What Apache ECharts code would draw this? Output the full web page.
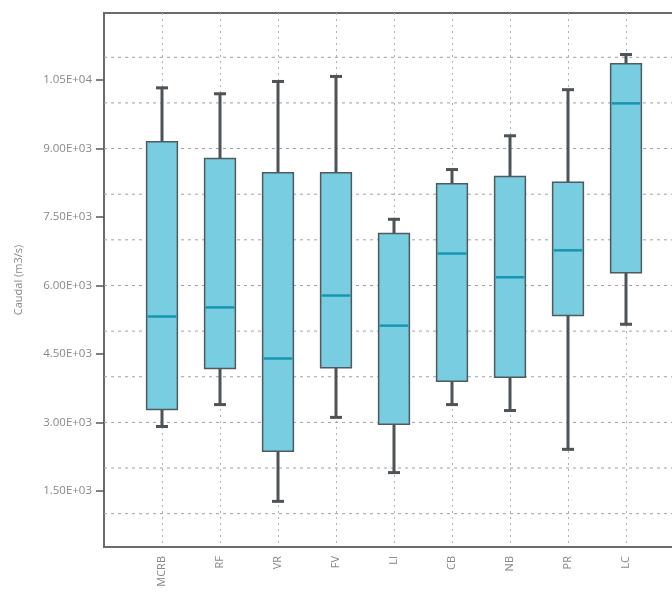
<!DOCTYPE html>
<html>
<head>
<meta charset="utf-8">
<script src="https://cdn.jsdelivr.net/npm/echarts@6/dist/echarts.min.js"></script>
<style>html,body{margin:0;padding:0;background:#fff}#c{width:672px;height:598px}</style>
</head>
<body>
<div id="c"></div>
<script>
const categories = ['MCRB', 'RF', 'VR', 'FV', 'LI', 'CB', 'NB', 'PR', 'LC'];
const minVals    = [2910, 3390, 1270, 3110, 1900, 3390, 3260, 2410, 5150];
const q1Vals     = [3280, 4180, 2370, 4200, 2960, 3900, 3990, 5340, 6280];
const medianVals = [5320, 5520, 4400, 5780, 5120, 6700, 6180, 6770, 9990];
const q3Vals     = [9150, 8780, 8470, 8470, 7140, 8230, 8390, 8260, 10860];
const maxVals    = [10330, 10200, 10470, 10580, 7450, 8540, 9280, 10290, 11060];
const yTickValues = [1500, 3000, 4500, 6000, 7500, 9000, 10500];
const yTickLabels = ['1.50E+03', '3.00E+03', '4.50E+03', '6.00E+03', '7.50E+03', '9.00E+03', '1.05E+04'];
const gridValues = [1000, 2000, 3000, 4000, 5000, 6000, 7000, 8000, 9000, 10000, 11000];
const yMin = 270, yMax = 11970;

const xData = [''].concat(categories, ['']);
const boxData = categories.map((c, i) => [i + 1, minVals[i], q1Vals[i], medianVals[i], q3Vals[i], maxVals[i]]);

function renderBox(params, api) {
  const x = api.value(0);
  const pMin = api.coord([x, api.value(1)]);
  const pQ1 = api.coord([x, api.value(2)]);
  const pMed = api.coord([x, api.value(3)]);
  const pQ3 = api.coord([x, api.value(4)]);
  const pMax = api.coord([x, api.value(5)]);
  const bw = api.size([1, 0])[0] * 0.53;
  const cw = 12;
  const cx = pMed[0];
  const wStyle = { stroke: '#4d5356', lineWidth: 3 };
  return {
    type: 'group',
    children: [
      { type: 'line', shape: { x1: cx, y1: pMax[1], x2: cx, y2: pQ3[1] }, style: wStyle },
      { type: 'line', shape: { x1: cx, y1: pQ1[1], x2: cx, y2: pMin[1] }, style: wStyle },
      { type: 'line', shape: { x1: cx - cw / 2, y1: pMax[1], x2: cx + cw / 2, y2: pMax[1] }, style: wStyle },
      { type: 'line', shape: { x1: cx - cw / 2, y1: pMin[1], x2: cx + cw / 2, y2: pMin[1] }, style: wStyle },
      { type: 'rect', shape: { x: cx - bw / 2, y: pQ3[1], width: bw, height: pQ1[1] - pQ3[1] },
        style: { fill: '#78cde0', stroke: '#4f5a5e', lineWidth: 1.5 } },
      { type: 'line', shape: { x1: cx - bw / 2 + 1, y1: pMed[1], x2: cx + bw / 2 - 1, y2: pMed[1] },
        style: { stroke: '#1597b2', lineWidth: 2.5 } }
    ]
  };
}

function renderGrid(params, api) {
  const y = api.coord([0, api.value(0)])[1];
  const cs = params.coordSys;
  return {
    type: 'line',
    shape: { x1: cs.x, y1: y, x2: cs.x + cs.width, y2: y },
    style: { stroke: '#a0a0a0', lineWidth: 1, lineDash: [3, 4] }
  };
}

const chart = echarts.init(document.getElementById('c'));
chart.setOption({
  animation: false,
  backgroundColor: '#ffffff',
  textStyle: { fontFamily: 'Open Sans' },
  grid: { left: 104, width: 580, top: 13, bottom: 51, show: true, borderColor: '#6a6a6a', borderWidth: 2,
          containLabel: false, outerBoundsMode: 'none' },
  xAxis: {
    type: 'category',
    data: xData,
    boundaryGap: false,
    axisLine: { show: true, lineStyle: { color: '#6a6a6a', width: 2 } },
    axisTick: { show: false },
    axisLabel: { rotate: 90, fontSize: 11, color: '#888', margin: 9, interval: 0 },
    splitLine: { show: true, lineStyle: { color: '#b0b0b0', type: [2, 4], width: 1 } }
  },
  yAxis: {
    type: 'value',
    min: yMin,
    max: yMax,
    name: 'Caudal (m3/s)',
    nameLocation: 'middle',
    nameGap: 80,
    nameTextStyle: { fontSize: 11, color: '#888' },
    axisLine: { show: true, lineStyle: { color: '#6a6a6a', width: 2 } },
    axisTick: { show: true, length: 8, customValues: yTickValues, lineStyle: { color: '#555', width: 1.5 } },
    axisLabel: {
      customValues: yTickValues,
      fontSize: 11.5,
      color: '#888',
      margin: 12,
      formatter: function (v) { const i = yTickValues.indexOf(v); return i >= 0 ? yTickLabels[i] : ''; }
    },
    splitLine: { show: false }
  },
  series: [
    { type: 'custom', data: gridValues.map(v => [v]), renderItem: renderGrid, silent: true, z: 1, clip: true },
    { type: 'custom', data: boxData, renderItem: renderBox, encode: { x: 0, y: [1, 2, 3, 4, 5] }, z: 3 }
  ]
});
</script>
</body>
</html>
